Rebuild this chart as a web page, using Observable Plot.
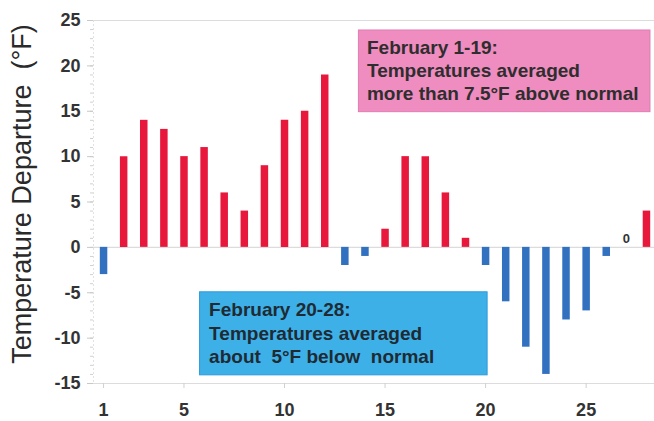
<!DOCTYPE html>
<html>
<head>
<meta charset="utf-8">
<script src="https://cdn.jsdelivr.net/npm/d3@7"></script>
<script src="https://cdn.jsdelivr.net/npm/@observablehq/plot@0.6"></script>
<style>
  html, body { margin: 0; padding: 0; background: #fff; }
  svg { display: block; }
</style>
</head>
<body>
<div id="chart"></div>
<script>
const days = d3.range(1, 29);
const departures = [-3, 10, 14, 13, 10, 11, 6, 4, 9, 14, 15, 19, -2, -1, 2, 10, 10, 6, 1, -2, -6, -11, -14, -8, -7, -1, 0, 4];
const xTicks = [1, 5, 10, 15, 20, 25];
const yTicks = [-15, -10, -5, 0, 5, 10, 15, 20, 25];
const yMinorTicks = d3.range(-15, 26);
const warmNote = "February 1-19:\nTemperatures averaged\nmore than 7.5°F above normal";
const coldNote = "February 20-28:\nTemperatures averaged\nabout\u00a0 5°F below\u00a0 normal";
const yLabel = "Temperature Departure\u00a0 (°F)";

const data = days.map((d, i) => ({day: d, value: departures[i]}));

const chart = Plot.plot({
  width: 654,
  height: 421,
  marginLeft: 93,
  marginRight: 0,
  marginTop: 20,
  marginBottom: 38,
  style: {fontFamily: "'Liberation Sans', Arial, sans-serif", background: "#fff"},
  x: {domain: [0.5, 28.4]},
  y: {domain: [-15, 25]},
  marks: [
    // annotation boxes
    Plot.rect([{x1: 13.7, x2: 28.2, y1: 14.9, y2: 23.9}], {x1: "x1", x2: "x2", y1: "y1", y2: "y2", fill: "#ef8cc0", stroke: "#e27cb2", strokeWidth: 1}),
    Plot.rect([{x1: 5.8, x2: 20.1, y1: -14.1, y2: -4.95}], {x1: "x1", x2: "x2", y1: "y1", y2: "y2", fill: "#3db0e8", stroke: "#2c9ad8", strokeWidth: 1}),
    Plot.text([warmNote], {x: 14.1, y: 23.15, text: d => d, textAnchor: "start", lineAnchor: "top", lineHeight: 1.22, fontSize: 19, fontWeight: "bold", fill: "#2e2e2e"}),
    Plot.text([coldNote], {x: 6.25, y: -5.73, text: d => d, textAnchor: "start", lineAnchor: "top", lineHeight: 1.24, fontSize: 19, fontWeight: "bold", fill: "#1f2a33"}),
    // grid lines
    Plot.ruleY([25, 0, -15], {stroke: "#dcdcdc", strokeWidth: 1.2}),
    Plot.ruleX([0.5], {stroke: "#e2e2e2", strokeWidth: 1, strokeDasharray: "2,2"}),
    // y axis ticks
    Plot.axisY({ticks: yMinorTicks, tickSize: 3, text: null, stroke: "#d0d0d0"}),
    Plot.axisY({ticks: yTicks, tickSize: 6, text: null, stroke: "#c8c8c8"}),
    Plot.axisY({ticks: yTicks, tickSize: 0, tickPadding: 13, tickFormat: d => String(d), fontSize: 18, fontWeight: "bold", fill: "#333"}),
    // x axis
    Plot.axisX({ticks: xTicks, tickSize: 5, text: null, stroke: "#d0d0d0"}),
    Plot.axisX({ticks: xTicks, tickSize: 0, tickPadding: 20, tickFormat: d => String(d), fontSize: 18, fontWeight: "bold", fill: "#333"}),
    // bars
    Plot.ruleX(data.filter(d => d.value !== 0), {
      x: "day", y1: 0, y2: "value",
      stroke: d => d.value > 0 ? "#e8183c" : "#3270c0",
      strokeWidth: 7.5
    }),
    Plot.text(data.filter(d => d.value === 0), {x: "day", y: "value", text: d => String(d.value), dy: -4, lineAnchor: "bottom", fontSize: 13, fontWeight: "bold", fill: "#333"}),
    // y label
    Plot.text([yLabel], {frameAnchor: "left", dx: -71, dy: -8, rotate: -90, textAnchor: "middle", text: d => d, fontSize: 27, fill: "#2a2a2a"})
  ]
});
document.getElementById("chart").appendChild(chart);
</script>
</body>
</html>
